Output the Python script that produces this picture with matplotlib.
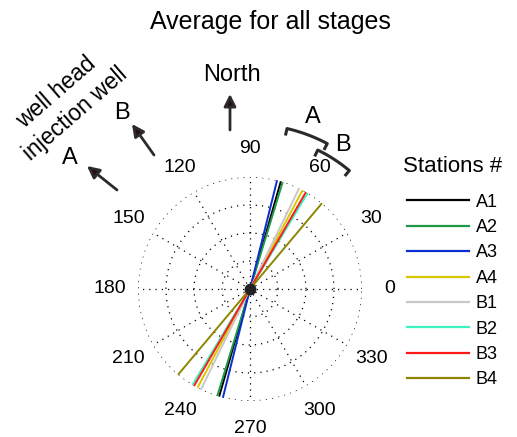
import numpy as np
import matplotlib
matplotlib.use('Agg')
import matplotlib.pyplot as plt

plt.rcParams['font.family'] = ['Liberation Sans', 'DejaVu Sans']

# station azimuths (deg, counter-clockwise from east), averaged over all stages
stations = ['A1', 'A2', 'A3', 'A4', 'B1', 'B2', 'B3', 'B4']
angles = [74, 73, 76, 62, 64, 59, 60, 50]
colors = ['#000000', '#1f9a48', '#0a2fd0', '#d6c800', '#c8c8c8', '#3ef2c2', '#ff1a1a', '#8c8600']

angle_ticks = list(range(0, 360, 30))
ring_ticks = [0.25, 0.5, 0.75, 1.0]

# bracket ranges for station groups (deg)
group_names = ['A', 'B']
group_span = [(62, 77), (50, 64)]
group_radius = [1.47, 1.38]

fig = plt.figure(figsize=(5.17, 4.37), dpi=100)
ax = fig.add_axes([0.2669, 0.0824, 0.4333, 0.5126], projection='polar')
ax.set_ylim(0, 1)
ax.set_xticks(np.deg2rad(angle_ticks))
ax.set_xticklabels([])
ax.set_yticks(ring_ticks)
ax.set_yticklabels([])
ax.grid(True, color='k', linestyle=(0, (1, 4)), linewidth=0.9)
ax.spines['polar'].set_visible(False)
ax.tick_params(length=0)

for name, ang, col in zip(stations, angles, colors):
    t = np.deg2rad(ang)
    ax.plot([t, t, t + np.pi], [1, 0, 1], color=col, lw=1.4, label=name)

ax.plot(0, 0, 'o', color='#222222', markersize=7.5, zorder=5)

for a in angle_ticks:
    ax.text(np.deg2rad(a), 1.25, str(a), ha='center', va='center', fontsize=14)

# group brackets
for name, (a0, a1), r in zip(group_names, group_span, group_radius):
    th = np.deg2rad(np.linspace(a0, a1, 40))
    ax.plot(np.r_[th[0], th, th[-1]], np.r_[r - 0.05, np.full(40, r), r - 0.05],
            color='#2a2a2a', lw=2.2, clip_on=False)
group_label_pos = [(70, 1.63), (57, 1.53)]
for name, (a, r) in zip(group_names, group_label_pos):
    ax.text(np.deg2rad(a), r, name, ha='center', va='center', fontsize=17)

# direction arrows
arr = dict(arrowstyle='-|>', color='#2b2b2b', lw=2, mutation_scale=18, shrinkA=0, shrinkB=0)
H = 437
for label, tail, tip, lpos in [('North', (230, 130), (230, 94), (232, 75)),
                               ('B', (154, 155), (132, 124), (122, 113)),
                               ('A', (117, 190), (87, 166), (70, 158))]:
    ann = fig.add_artist(matplotlib.patches.FancyArrowPatch(
        (tail[0], H - tail[1]), (tip[0], H - tip[1]), transform=None, **arr))
    ann.set_facecolor('#2a0a14')
    fig.text(lpos[0] / 517, 1 - lpos[1] / H, label, ha='center', va='center', fontsize=17)

fig.text(56 / 517, 1 - 92 / H, 'well head', rotation=41, ha='center', va='center', fontsize=16.5)
fig.text(75 / 517, 1 - 114 / H, 'injection well', rotation=41, ha='center', va='center', fontsize=16.5)

fig.text(270 / 517, 1 - 22 / H, 'Average for all stages', ha='center', va='center', fontsize=18)

leg = ax.legend(loc='upper left', bbox_to_anchor=(403 / 517, 1 - 156 / H),
                bbox_transform=fig.transFigure, frameon=False, title='Stations #',
                fontsize=13, title_fontsize=16, handlelength=3.4, handletextpad=0.4,
                labelspacing=0.465, borderaxespad=0, borderpad=0)
leg._legend_box.sep = 12
for line in leg.get_lines():
    line.set_linewidth(1.6)

fig.savefig('out.png', dpi=100)
